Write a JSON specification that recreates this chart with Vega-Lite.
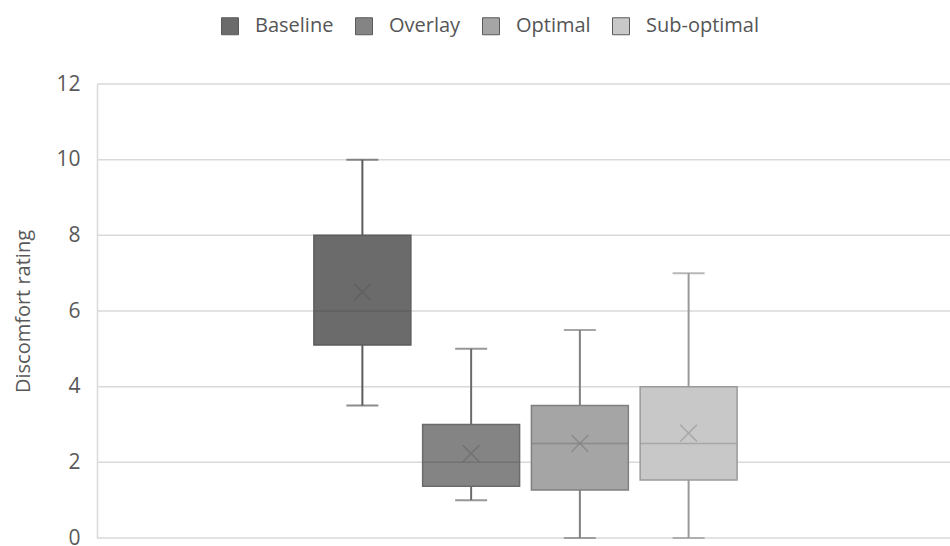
{
  "$schema": "https://vega.github.io/schema/vega-lite/v6.json",
  "width": 853,
  "height": 454,
  "autosize": {"type": "none"},
  "padding": {"left": 97, "top": 84, "right": 0, "bottom": 8},
  "background": "white",
  "config": {
    "view": {"stroke": null},
    "font": "Open Sans",
    "axis": {"labelFont": "Open Sans", "titleFont": "Open Sans"},
    "legend": {"labelFont": "Open Sans"}
  },
  "datasets": {
    "boxes": [
      {"series": "Baseline", "lower": 3.5, "q1": 5.1, "median": 6, "q3": 8, "upper": 10, "mean": 6.5},
      {"series": "Overlay", "lower": 1, "q1": 1.37, "median": 2, "q3": 3, "upper": 5, "mean": 2.23},
      {"series": "Optimal", "lower": 0, "q1": 1.27, "median": 2.5, "q3": 3.5, "upper": 5.5, "mean": 2.5},
      {"series": "Sub-optimal", "lower": 0, "q1": 1.53, "median": 2.5, "q3": 4, "upper": 7, "mean": 2.77}
    ],
    "grid": [
      {"v": 0}, {"v": 2}, {"v": 4}, {"v": 6}, {"v": 8}, {"v": 10}, {"v": 12}
    ]
  },
  "data": {"name": "boxes"},
  "layer": [
    {
      "data": {"name": "grid"},
      "mark": {"type": "rule", "color": "#d9d9d9", "strokeWidth": 1.5},
      "encoding": {
        "y": {
          "field": "v",
          "type": "quantitative",
          "scale": {"domain": [0, 12], "nice": false},
          "axis": {
            "values": [0, 2, 4, 6, 8, 10, 12],
            "title": "Discomfort rating",
            "titleFontSize": 20,
            "titleFontWeight": "normal",
            "titleColor": "#595959",
            "titlePadding": 22,
            "labelFontSize": 21,
            "labelColor": "#595959",
            "labelPadding": 17,
            "ticks": false,
            "grid": false,
            "domainColor": "#d9d9d9",
            "domainWidth": 1.5
          }
        }
      }
    },
    {
      "mark": {"type": "rule", "strokeWidth": 2},
      "encoding": {
        "x": {
          "field": "series",
          "type": "nominal",
          "sort": ["Baseline", "Overlay", "Optimal", "Sub-optimal"],
          "scale": {"range": [211, 646], "paddingInner": 0.1085, "paddingOuter": 0.0543},
          "axis": null
        },
        "y": {"field": "lower", "type": "quantitative"},
        "y2": {"field": "upper"},
        "stroke": {
          "field": "series",
          "type": "nominal",
          "scale": {"domain": ["Sub-optimal", "Optimal", "Overlay", "Baseline"], "range": ["#9a9a9a", "#808080", "#6b6b6b", "#5c5c5c"]},
          "legend": null
        }
      }
    },
    {
      "mark": {"type": "tick", "size": 32, "thickness": 2},
      "encoding": {
        "x": {"field": "series", "type": "nominal", "sort": ["Baseline", "Overlay", "Optimal", "Sub-optimal"]},
        "y": {"field": "lower", "type": "quantitative"},
        "color": {
          "field": "series",
          "type": "nominal",
          "scale": {"domain": ["Sub-optimal", "Optimal", "Overlay", "Baseline"], "range": ["#9a9a9a", "#808080", "#6b6b6b", "#5c5c5c"]},
          "legend": null
        }
      }
    },
    {
      "mark": {"type": "tick", "size": 32, "thickness": 2},
      "encoding": {
        "x": {"field": "series", "type": "nominal", "sort": ["Baseline", "Overlay", "Optimal", "Sub-optimal"]},
        "y": {"field": "upper", "type": "quantitative"},
        "color": {"field": "series", "type": "nominal", "legend": null}
      }
    },
    {
      "mark": {"type": "bar", "strokeWidth": 1.5},
      "encoding": {
        "x": {"field": "series", "type": "nominal", "sort": ["Baseline", "Overlay", "Optimal", "Sub-optimal"]},
        "y": {"field": "q1", "type": "quantitative"},
        "y2": {"field": "q3"},
        "fill": {
          "field": "series",
          "type": "nominal",
          "scale": {"domain": ["Baseline", "Overlay", "Optimal", "Sub-optimal"], "range": ["#6b6b6b", "#848484", "#a5a5a5", "#c8c8c8"]},
          "legend": {
            "title": null,
            "orient": "none",
            "direction": "horizontal",
            "legendX": 123,
            "legendY": -68,
            "symbolType": "square",
            "symbolSize": 289,
            "symbolStrokeColor": "#5a5a5a",
            "symbolStrokeWidth": 1,
            "labelFontSize": 20,
            "labelColor": "#555555",
            "labelOffset": 15,
            "columnPadding": 19
          }
        },
        "stroke": {"field": "series", "type": "nominal", "legend": null}
      }
    },
    {
      "mark": {"type": "tick", "size": 97, "thickness": 1.5},
      "encoding": {
        "x": {"field": "series", "type": "nominal", "sort": ["Baseline", "Overlay", "Optimal", "Sub-optimal"]},
        "y": {"field": "median", "type": "quantitative"},
        "color": {"field": "series", "type": "nominal", "legend": null}
      }
    },
    {
      "mark": {"type": "point", "shape": "M-1,-1L1,1M-1,1L1,-1", "filled": false, "size": 280, "strokeWidth": 1.5},
      "encoding": {
        "x": {"field": "series", "type": "nominal", "sort": ["Baseline", "Overlay", "Optimal", "Sub-optimal"]},
        "y": {"field": "mean", "type": "quantitative"},
        "stroke": {"field": "series", "type": "nominal", "legend": null}
      }
    }
  ]
}
